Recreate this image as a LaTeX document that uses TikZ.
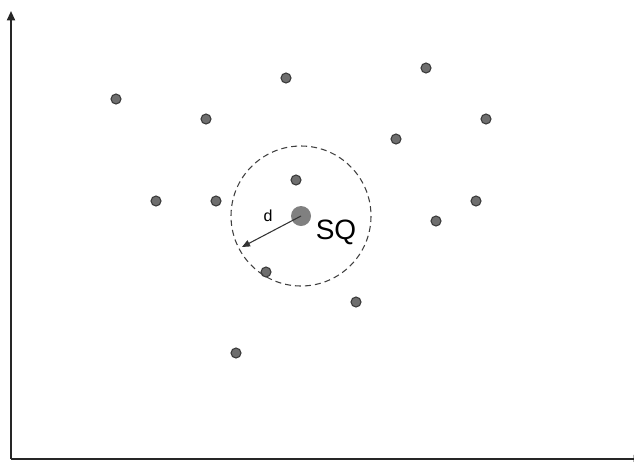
\documentclass[tikz,border=0pt]{standalone}
\usepackage{fontspec}
\setmainfont{Liberation Sans}
\usetikzlibrary{arrows.meta}
\definecolor{dotfill}{HTML}{6E6E6E}
\definecolor{dotline}{HTML}{3A3A3A}
\begin{document}
\begin{tikzpicture}[x=0.75pt,y=-0.75pt,
  pt/.style={circle,fill=dotfill,draw=dotline,line width=0.8pt,minimum size=7.5pt,inner sep=0pt},
  axis/.style={line width=1.3pt,draw=black!85,-{Triangle[length=7pt,width=6pt]}}]
\useasboundingbox (0,0) rectangle (634,461);
\coordinate (o) at (11,459);
\coordinate (ytop) at (11,11);
\coordinate (xend) at (643,459);
\draw[axis] (o) -- (ytop);
\draw[axis] (o) -- (xend);
\foreach \n/\x/\y in {a/116/99,b/206/119,c/286/78,e/426/68,f/486/119,g/396/139,h/156/201,i/216/201,j/296/180,k/436/221,l/476/201,m/266/272,n/356/302,p/236/353}
  \node[pt] (\n) at (\x,\y) {};
\node[circle,fill=black!50,minimum size=15pt,inner sep=0pt] (sq) at (301,216) {};
\draw[line width=0.8pt,black!75,dash pattern=on 4.5pt off 3pt] (sq.center) circle[radius=70];
\coordinate (rim) at (242,247);
\draw[line width=0.8pt,black!80,-{Triangle[length=6pt,width=5pt]}] (sq.center) -- (rim);
\node[font=\fontsize{12}{13}\selectfont] (d) at (268,216) {d};
\node[font=\fontsize{21}{22}\selectfont] (sqlabel) at (336,232) {SQ};
\end{tikzpicture}
\end{document}
